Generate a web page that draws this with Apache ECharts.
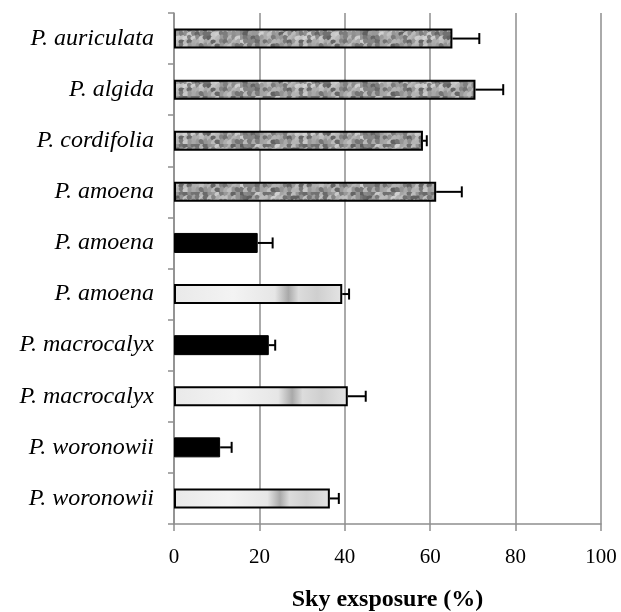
<!DOCTYPE html>
<html><head><meta charset="utf-8">
<script src="https://cdn.jsdelivr.net/npm/echarts@6/dist/echarts.min.js"></script>
<style>html,body{margin:0;padding:0;background:#fff}#c{width:621px;height:612px}</style>
</head><body><div id="c"></div>
<script>
const categories = ['P. auriculata','P. algida','P. cordifolia','P. amoena','P. amoena','P. amoena','P. macrocalyx','P. macrocalyx','P. woronowii','P. woronowii'];
const values = [65.2, 70.6, 58.3, 61.4, 19.6, 39.4, 22.2, 40.7, 10.8, 36.5];
const errors = [6.3, 6.5, 0.9, 6.0, 3.5, 1.6, 1.5, 4.2, 2.7, 2.1];
const fillTypes = ['dark','dark','dark','dark','black','light','black','light','black','light'];
const xTicks = {min: 0, max: 100, interval: 20};

// mottled texture (deterministic hash, styling only)
function hash(i, j){ const s = Math.sin(i*12.9898 + j*78.233) * 43758.5453; return s - Math.floor(s); }
const pc = document.createElement('canvas');
pc.width = 120; pc.height = 24;
const g = pc.getContext('2d');
g.fillStyle = '#a0a0a0'; g.fillRect(0,0,120,24);
for (let i = 0; i < 120; i += 4) {
  for (let j = 0; j < 24; j += 4) {
    const h = hash(i, j);
    const v = Math.round(95 + h * 115);
    g.fillStyle = 'rgb(' + v + ',' + v + ',' + v + ')';
    g.beginPath();
    g.ellipse(i + 2, j + 2, 3.6, 2.4, h * 3, 0, Math.PI * 2);
    g.fill();
  }
}
const darkPattern = {image: pc, repeat: 'repeat'};
const lightGrad = {type: 'linear', x: 0, y: 0, x2: 1, y2: 0, colorStops: [
  {offset: 0, color: '#e9e9e9'}, {offset: 0.35, color: '#f3f3f3'}, {offset: 0.6, color: '#e6e6e6'},
  {offset: 0.68, color: '#a9a9a9'}, {offset: 0.74, color: '#dcdcdc'}, {offset: 0.85, color: '#cfcfcf'},
  {offset: 1, color: '#e4e4e4'}]};

function styleFor(t){
  if (t === 'black') return {color: '#000', borderColor: '#000', borderWidth: 1};
  if (t === 'dark') return {color: darkPattern, borderColor: '#000', borderWidth: 2};
  return {color: lightGrad, borderColor: '#000', borderWidth: 2};
}

const barData = values.map((v, i) => ({value: v, itemStyle: styleFor(fillTypes[i])}));
const errData = values.map((v, i) => [v, i, errors[i]]);

const chart = echarts.init(document.getElementById('c'));
chart.setOption({
  animation: false,
  grid: {left: 174, right: 20, top: 13, bottom: 88, containLabel: false, outerBoundsMode: 'none'},
  xAxis: {
    type: 'value', min: xTicks.min, max: xTicks.max, interval: xTicks.interval,
    axisLine: {show: true, lineStyle: {color: '#8e8e8e', width: 1.5}},
    axisTick: {show: true, length: 7, lineStyle: {color: '#8e8e8e', width: 1.5}},
    splitLine: {show: true, lineStyle: {color: '#8e8e8e', width: 1.5}},
    axisLabel: {color: '#000', fontFamily: 'Liberation Serif', fontSize: 21, margin: 23},
    name: 'Sky exsposure (%)', nameLocation: 'middle', nameGap: 64,
    nameTextStyle: {color: '#000', fontFamily: 'Liberation Serif', fontSize: 24, fontWeight: 'bold'}
  },
  yAxis: {
    type: 'category', data: categories, inverse: true,
    axisLine: {show: true, lineStyle: {color: '#8e8e8e', width: 1.5}},
    axisTick: {show: true, length: 6, lineStyle: {color: '#8e8e8e', width: 1.5}},
    axisLabel: {color: '#000', fontFamily: 'Liberation Serif', fontSize: 24, fontStyle: 'italic', margin: 20}
  },
  series: [
    {type: 'bar', data: barData, barWidth: 20, z: 2},
    {type: 'custom', z: 3, data: errData, encode: {x: 0, y: 1},
      renderItem: function(params, api){
        const v = api.value(0), idx = api.value(1), e = api.value(2);
        const p0 = api.coord([v, idx]);
        const p1 = api.coord([v + e, idx]);
        const half = 5.5;
        return {type: 'group', children: [
          {type: 'line', shape: {x1: p0[0], y1: p0[1], x2: p1[0], y2: p1[1]}, style: {stroke: '#000', lineWidth: 2}},
          {type: 'line', shape: {x1: p1[0], y1: p1[1] - half, x2: p1[0], y2: p1[1] + half}, style: {stroke: '#000', lineWidth: 2}}
        ]};
      }
    }
  ]
});
</script></body></html>
